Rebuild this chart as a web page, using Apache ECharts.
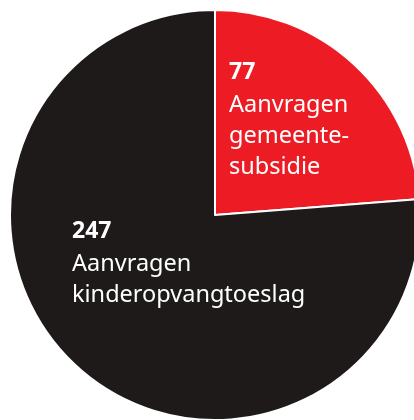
<!DOCTYPE html>
<html>
<head>
<meta charset="utf-8">
<script src="https://cdn.jsdelivr.net/npm/echarts@6/dist/echarts.min.js"></script>
<style>
  html, body { margin: 0; padding: 0; background: #fff; }
  #pie { width: 414px; height: 420px; }
</style>
</head>
<body>
<div id="pie"></div>
<script>
// data
const names = ['Aanvragen\ngemeente-\nsubsidie', 'Aanvragen\nkinderopvangtoeslag'];
const values = [77, 247];
const colors = ['#ed1c24', '#1e1a1a'];
// label top-left corners (text blocks)
const labelPos = [[229, 54], [72, 213]];

const myChart = echarts.init(document.getElementById('pie'));

let option = {
    backgroundColor: '#ffffff',
    animation: false,
    series: [{
        type: 'pie',
        center: [215, 215],
        radius: [0, 205],
        startAngle: 90,
        clockwise: true,
        avoidLabelOverlap: false,
        emphasis: { disabled: true },
        itemStyle: {
            borderColor: '#ffffff',
            borderWidth: 2
        },
        label: {
            show: true,
            position: 'inside',
            formatter: p => '{n|' + p.value + '}\n' + p.name.split('\n').map(s => '{t|' + s + '}').join('\n'),
            rich: {
                n: {
                    color: '#fff',
                    fontFamily: 'Noto Sans',
                    fontWeight: 'bold',
                    fontSize: 23,
                    lineHeight: 36
                },
                t: {
                    color: '#fff',
                    fontFamily: 'Noto Sans',
                    fontSize: 23.5,
                    lineHeight: 31
                }
            }
        },
        labelLine: { show: false },
        labelLayout: params => ({
            x: labelPos[params.dataIndex][0],
            y: labelPos[params.dataIndex][1],
            align: 'left',
            verticalAlign: 'top'
        }),
        data: values.map((v, i) => ({
            name: names[i],
            value: v,
            itemStyle: { color: colors[i] }
        }))
    }]
};
option && myChart.setOption(option);
</script>
</body>
</html>
